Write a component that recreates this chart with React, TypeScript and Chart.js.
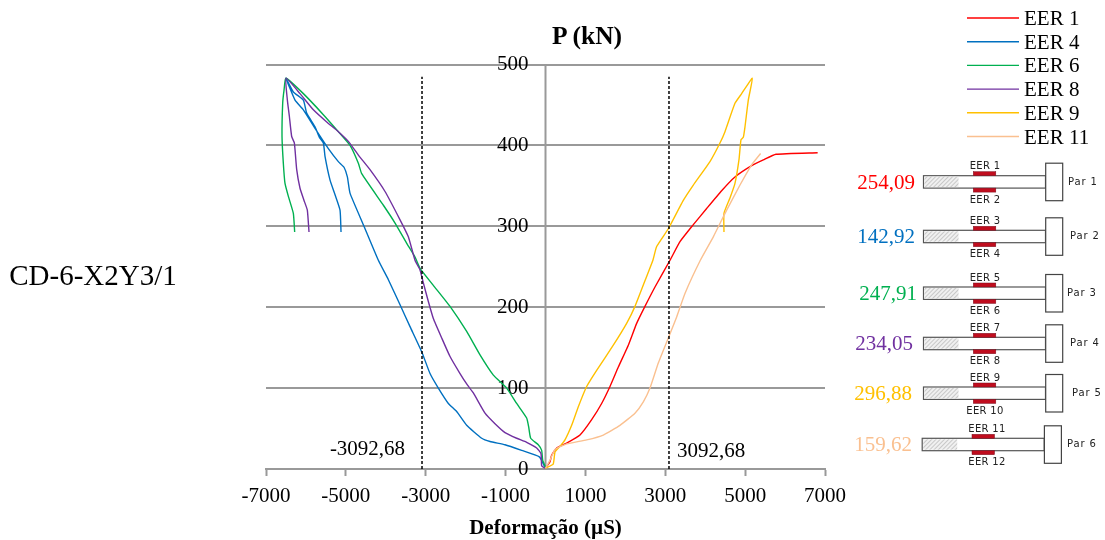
import React, { useEffect, useRef } from "react";
import { Chart, registerables } from "chart.js";

Chart.register(...registerables);

const seriesNames = ["EER 1", "EER 4", "EER 6", "EER 8", "EER 9", "EER 11"];
const seriesColors = ["#ff0000", "#0070c0", "#00b050", "#7030a0", "#ffc000", "#fac090"];

const eer1X = [0, 113, 154, 280, 530, 864, 1156, 1406, 1615, 1824, 2074, 2283, 2491, 2742, 3118, 3368, 3702, 4036, 4411, 4745, 5163, 5455, 5772, 6816];
const eer1Y = [1, 9, 17, 26, 32, 42, 61, 81, 102, 126, 153, 180, 201, 225, 258, 281, 302, 322, 344, 361, 375, 382, 389, 391];

const eer4X = [-13, -154, -597, -1014, -1390, -1598, -1974, -2224, -2433, -2684, -2892, -3101, -3393, -3643, -3935, -4186, -4562, -4896, -4962, -5046, -5188, -5438, -5772, -6064, -6273, -6499, -6315, -6064, -5981, -5772, -5663, -5563, -5521, -5396, -5271, -5146, -5121];
const eer4Y = [2, 15, 23, 30, 34, 38, 54, 71, 81, 100, 118, 145, 176, 203, 234, 258, 302, 341, 361, 373, 380, 396, 421, 444, 456, 483, 466, 456, 440, 423, 410, 403, 386, 357, 339, 320, 293];

const eer6X = [4, -71, -96, -181, -371, -421, -472, -722, -972, -1306, -1640, -1974, -2391, -2809, -3143, -3268, -3476, -3768, -4060, -4603, -4687, -4895, -5188, -5564, -6064, -6499, -6549, -6582, -6599, -6566, -6524, -6440, -6315, -6282];
const eer6Y = [2, 11, 23, 30, 38, 52, 63, 81, 100, 116, 141, 170, 201, 227, 248, 262, 279, 304, 326, 365, 378, 400, 417, 438, 464, 483, 468, 452, 411, 378, 353, 337, 316, 293];

const eer8X = [-13, -96, -113, -221, -472, -722, -1014, -1265, -1515, -1807, -1957, -2141, -2391, -2600, -2809, -2934, -3059, -3143, -3268, -3435, -3643, -4019, -4395, -4687, -4937, -5188, -5480, -5814, -6148, -6499, -6465, -6415, -6357, -6290, -6231, -6148, -6048, -5965, -5923];
const eer8Y = [1, 4, 19, 26, 33, 38, 45, 56, 69, 94, 104, 118, 139, 162, 186, 207, 230, 246, 258, 287, 308, 343, 370, 388, 405, 417, 429, 444, 464, 483, 456, 436, 411, 403, 370, 347, 332, 320, 293];

const eer9X = [0, 192, 238, 363, 488, 655, 822, 1031, 1281, 1698, 2032, 2241, 2533, 2690, 2784, 3076, 3451, 3702, 4119, 4369, 4495, 4745, 4912, 5179, 5079, 4996, 4954, 4896, 4845, 4745, 4620, 4470, 4470];
const eer9Y = [1, 6, 21, 28, 36, 54, 77, 102, 122, 153, 180, 201, 238, 258, 275, 297, 332, 351, 380, 403, 417, 452, 464, 483, 456, 423, 410, 407, 382, 353, 335, 316, 293];

const eer11X = [0, 113, 238, 530, 1031, 1448, 1865, 2241, 2450, 2617, 2825, 3076, 3285, 3493, 3878, 4203, 4537, 4871, 5163, 5388];
const eer11Y = [1, 11, 24, 31, 36, 42, 54, 69, 83, 100, 131, 162, 188, 217, 258, 287, 320, 351, 376, 390];

const seriesX = [eer1X, eer4X, eer6X, eer8X, eer9X, eer11X];
const seriesY = [eer1Y, eer4Y, eer6Y, eer8Y, eer9Y, eer11Y];

const limitStrain = 3092.68;
const limitLineTop = 485;
const limitLabels = ["-3092,68", "3092,68"];

const xTicks = [-7000, -5000, -3000, -1000, 1000, 3000, 5000, 7000];
const yTicks = [0, 100, 200, 300, 400, 500];

const specimenName = "CD-6-X2Y3/1";
const valueLabels = ["254,09", "142,92", "247,91", "234,05", "296,88", "159,62"];
const pairNames = ["Par 1", "Par 2", "Par 3", "Par 4", "Par 5", "Par 6"];
const gaugeTop = ["EER 1", "EER 3", "EER 5", "EER 7", "EER 9", "EER 11"];
const gaugeBottom = ["EER 2", "EER 4", "EER 6", "EER 8", "EER 10", "EER 12"];

// Drawing of the six bar pairs (layout only, not data)
const pairBarTop = [175.7, 230.3, 287, 337.3, 387, 438.3];
const pairShift = [0, 0, 0, 0, 0, -1.3];
const pairLabelX = [1068, 1070, 1067, 1070, 1072, 1067];
const valueLabelX = [886, 886, 888, 884, 883, 883];

const SERIF = "'Liberation Serif'";
const GRID = "#999999";

export default function App() {
  const ref = useRef<HTMLCanvasElement | null>(null);

  useEffect(() => {
    if (!ref.current) return;
    const lineSets = seriesNames.map((name, i) => ({
      label: name,
      data: seriesX[i].map((x, k) => ({ x, y: seriesY[i][k] })),
      borderColor: seriesColors[i],
      backgroundColor: seriesColors[i],
      borderWidth: 1.4,
      pointRadius: 0,
      tension: 0.15,
      order: -i,
    }));
    const dashed = [-limitStrain, limitStrain].map((x) => ({
      label: "limit " + x,
      data: [
        { x, y: 0 },
        { x, y: limitLineTop },
      ],
      borderColor: "#000000",
      borderWidth: 1.5,
      borderDash: [3, 2],
      pointRadius: 0,
      order: -10,
    }));
    const axisLine = {
      label: "axis",
      data: [
        { x: 0, y: 0 },
        { x: 0, y: 500 },
      ],
      borderColor: GRID,
      borderWidth: 2,
      pointRadius: 0,
      order: 10,
    };
    const chart = new Chart(ref.current, {
      type: "line",
      data: { datasets: [axisLine, ...lineSets, ...dashed] as any },
      options: {
        animation: false,
        responsive: false,
        layout: { padding: { left: 266, right: 280, top: 64.5, bottom: 71 } },
        plugins: { legend: { display: false }, tooltip: { enabled: false }, title: { display: false } },
        scales: {
          x: {
            type: "linear",
            min: -7000,
            max: 7000,
            position: { y: 0 } as any,
            afterBuildTicks: (s: any) => {
              s.ticks = xTicks.map((value) => ({ value }));
            },
            grid: { drawOnChartArea: false, drawTicks: true, tickLength: 6, tickColor: GRID, tickWidth: 2 },
            border: { color: GRID, width: 2 },
            ticks: {
              color: "#000",
              font: { family: SERIF, size: 21 },
              padding: 9,
              maxRotation: 0,
              autoSkip: false,
              callback: (v: any) => String(v),
            },
            title: {
              display: true,
              text: "Deformação (µS)",
              color: "#000",
              font: { family: SERIF, size: 21, weight: "bold" },
              padding: { top: -2, bottom: 0 },
            },
          },
          y: {
            type: "linear",
            min: 0,
            max: 500,
            position: { x: -425 } as any,
            afterBuildTicks: (s: any) => {
              s.ticks = yTicks.map((value) => ({ value }));
            },
            grid: { color: GRID, lineWidth: 2, drawTicks: false },
            border: { display: false },
            ticks: {
              color: "#000",
              font: { family: SERIF, size: 21 },
              padding: 0,
              callback: (v: any) => String(v),
            },
          },
        },
      },
    });
    return () => chart.destroy();
  }, []);

  return (
    <div style={{ position: "absolute", left: 0, top: 0, width: 1105, height: 540, background: "#fff" }}>
      <canvas ref={ref} width={1105} height={540} style={{ position: "absolute", left: 0, top: 0 }} />
      <svg width={1105} height={540} style={{ position: "absolute", left: 0, top: 0 }} fontFamily={SERIF}>
        <defs>
          <pattern id="hatch" width="3" height="3" patternUnits="userSpaceOnUse" patternTransform="rotate(45)">
            <rect width="3" height="3" fill="#f0f0f0" />
            <line x1="0" y1="0" x2="0" y2="3" stroke="#bbbbbb" strokeWidth="1.5" />
          </pattern>
        </defs>
        <text x={93} y={275} textAnchor="middle" dominantBaseline="central" fontSize={29}>{specimenName}</text>
        <text x={587} y={35.5} textAnchor="middle" dominantBaseline="central" fontSize={25.5} fontWeight="bold">P (kN)</text>
        <text x={367.5} y={448} textAnchor="middle" dominantBaseline="central" fontSize={21}>{limitLabels[0]}</text>
        <text x={711} y={450} textAnchor="middle" dominantBaseline="central" fontSize={21}>{limitLabels[1]}</text>
        {seriesNames.map((name, i) => {
          const y = 18 + i * 23.7;
          return (
            <g key={name}>
              <line x1={967} x2={1019} y1={y} y2={y} stroke={seriesColors[i]} strokeWidth={1.4} />
              <text x={1024} y={y} dominantBaseline="central" fontSize={21}>{name}</text>
            </g>
          );
        })}
        {pairNames.map((name, i) => {
          const top = pairBarTop[i];
          const s = pairShift[i];
          return (
            <g key={name}>
              <text x={valueLabelX[i]} y={top + 6} textAnchor="middle" dominantBaseline="central" fontSize={21} fill={seriesColors[i]}>
                {valueLabels[i]}
              </text>
              <rect x={923.5 + s} y={top} width={122} height={12.4} fill="#fff" stroke="#555" strokeWidth={1.2} />
              <rect x={924.5 + s} y={top + 1} width={34} height={10.4} fill="url(#hatch)" />
              <rect x={1045.7 + s} y={top - 12.5} width={17} height={37.5} fill="#fff" stroke="#444" strokeWidth={1.2} />
              <rect x={973.3 + s} y={top - 4} width={22.5} height={4} fill="#c00d1e" stroke="#7a1020" strokeWidth={0.5} />
              <rect x={973.3 + s} y={top + 12.4} width={22.5} height={4} fill="#c00d1e" stroke="#7a1020" strokeWidth={0.5} />
              <g fontFamily="'DejaVu Sans'" fontSize={10} fill="#222">
                <text x={985 + (i === 5 ? 2 : 0)} y={top - 10} textAnchor="middle" dominantBaseline="central" letterSpacing={0.3}>{gaugeTop[i]}</text>
                <text x={985 + (i === 5 ? 2 : 0)} y={top + 23.5} textAnchor="middle" dominantBaseline="central" letterSpacing={0.3}>{gaugeBottom[i]}</text>
                <text x={pairLabelX[i]} y={top + 5.5} dominantBaseline="central" letterSpacing={0.9}>{name}</text>
              </g>
            </g>
          );
        })}
      </svg>
    </div>
  );
}
